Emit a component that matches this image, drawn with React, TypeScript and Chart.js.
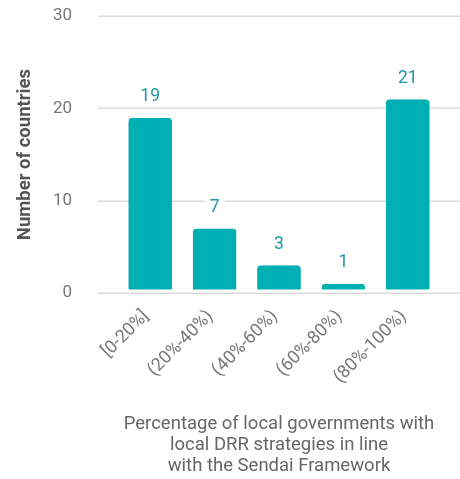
import React, { useEffect, useRef } from "react";
import { Chart, registerables } from "chart.js";

Chart.register(...registerables);

const categories = ["[0-20%]", "(20%-40%)", "(40%-60%)", "(60%-80%)", "(80%-100%)"];
const countries = [19, 7, 3, 1, 21];
const yTicks = [0, 10, 20, 30];
const xTitle = [
  "Percentage of local governments with",
  "local DRR strategies in line",
  "with the Sendai Framework",
];
const yTitle = "Number of countries";

const FONT = "Roboto, 'Noto Sans', sans-serif";

const gridPlugin = {
  id: "customGrid",
  beforeDatasetsDraw(chart: any) {
    const { ctx, chartArea, scales } = chart;
    ctx.save();
    ctx.strokeStyle = "#dadada";
    ctx.lineWidth = 1.5;
    yTicks.forEach((v) => {
      const y = Math.round(scales.y.getPixelForValue(v)) + 0.25;
      ctx.beginPath();
      ctx.moveTo(chartArea.left - 20, y);
      ctx.lineTo(chart.width, y);
      ctx.stroke();
    });
    ctx.restore();
  },
};

const labelPlugin = {
  id: "barLabels",
  afterDatasetsDraw(chart: any) {
    const { ctx } = chart;
    const meta = chart.getDatasetMeta(0);
    ctx.save();
    ctx.font = `17.5px ${FONT}`;
    ctx.textAlign = "center";
    ctx.textBaseline = "middle";
    meta.data.forEach((bar: any, i: number) => {
      const text = String(countries[i]);
      const x = bar.x;
      const y = bar.y - 22;
      const w = ctx.measureText(text).width + 10;
      ctx.fillStyle = "#ffffff";
      ctx.fillRect(x - w / 2, y - 10, w, 20);
      ctx.fillStyle = "#1e97a9";
      ctx.fillText(text, x, y + 1);
    });
    ctx.restore();
  },
};

export default function App() {
  const ref = useRef<HTMLCanvasElement | null>(null);
  useEffect(() => {
    if (!ref.current) return;
    const chart = new Chart(ref.current, {
      type: "bar",
      data: {
        labels: categories,
        datasets: [
          {
            data: countries,
            backgroundColor: "#00afb4",
            borderColor: "rgba(0,0,0,0)",
            borderWidth: { top: 0, left: 0, right: 0, bottom: 3 },
            borderSkipped: false,
            borderRadius: 4,
            barPercentage: 0.68,
            categoryPercentage: 1,
          },
        ],
      },
      options: {
        animation: false,
        responsive: false,
        layout: { padding: { top: 0, right: 20, bottom: 2, left: 0 } },
        plugins: { legend: { display: false }, tooltip: { enabled: false } },
        scales: {
          x: {
            grid: { display: false },
            border: { display: false },
            afterFit: (s: any) => {
              s.height = 184;
            },
            ticks: {
              minRotation: 45,
              maxRotation: 45,
              padding: 5,
              labelOffset: -4,
              color: "#777777",
              font: { family: FONT, size: 18 },
            },
            title: {
              display: true,
              text: xTitle,
              color: "#666666",
              font: { family: FONT, size: 18.5, lineHeight: 1.135 },
              padding: { top: 22, bottom: 0 },
            },
          },
          y: {
            min: 0,
            max: 30,
            grid: {
              display: true,
              drawOnChartArea: false,
              drawTicks: true,
              tickLength: 40,
              color: "rgba(0,0,0,0)",
            },
            border: { display: false },
            afterFit: (s: any) => {
              s.width = 118;
            },
            ticks: {
              stepSize: 10,
              padding: 6,
              color: "#777777",
              font: { family: FONT, size: 17 },
            },
            title: {
              display: true,
              text: yTitle,
              color: "#555555",
              font: { family: FONT, size: 18.5, weight: "bold" },
              padding: { top: 14, bottom: 0 },
            },
          },
        },
      },
      plugins: [gridPlugin, labelPlugin],
    });
    return () => chart.destroy();
  }, []);
  return (
    <div style={{ position: "fixed", left: 0, top: 0, width: 460, height: 479, background: "#fff" }}>
      <canvas ref={ref} width={460} height={479} style={{ width: 460, height: 479 }} />
    </div>
  );
}
